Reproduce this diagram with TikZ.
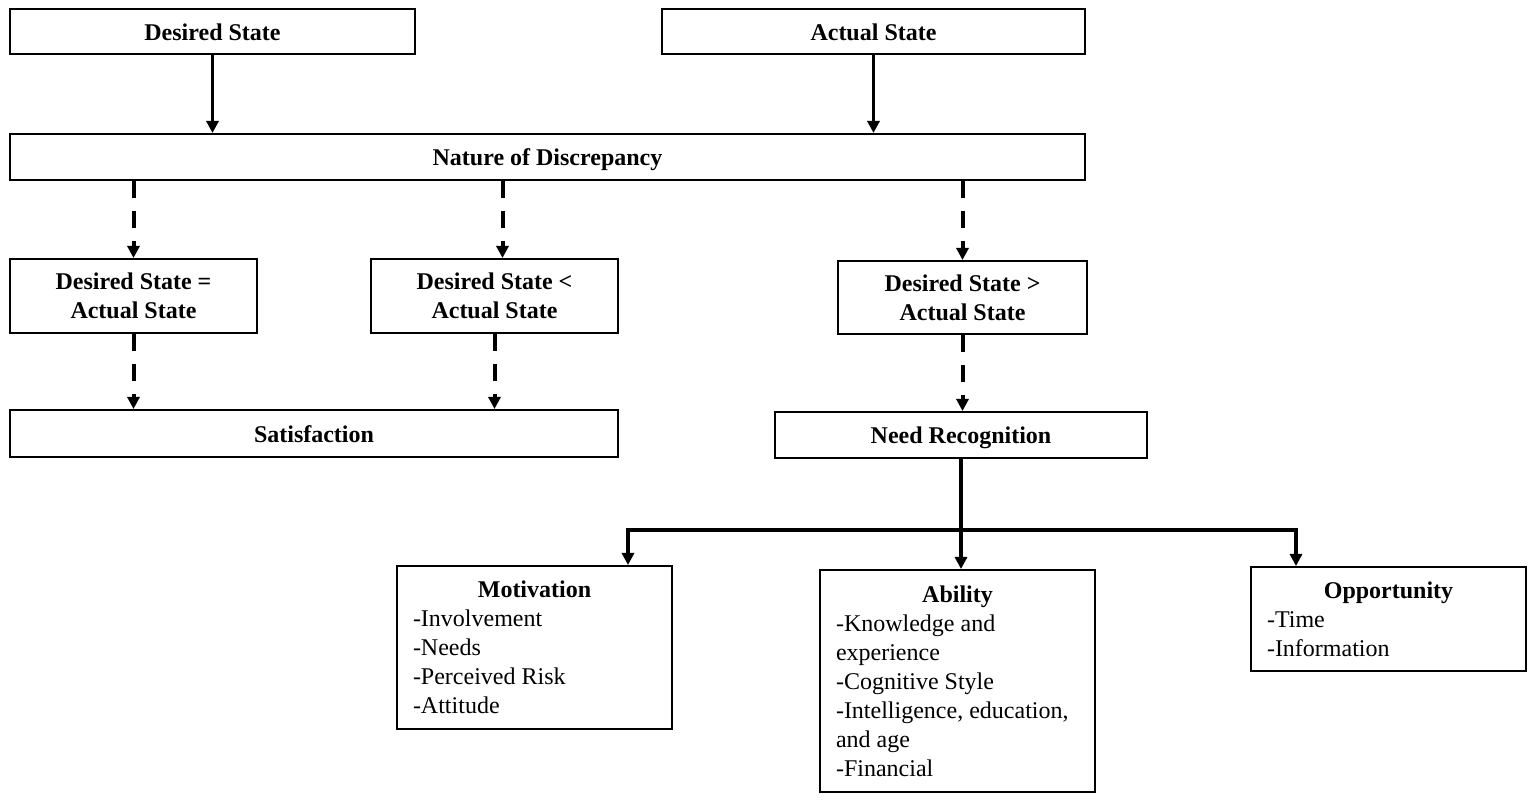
\documentclass[tikz,border=0pt]{standalone}
\usepackage{fontspec}
\setmainfont{Liberation Serif}
\usetikzlibrary{arrows.meta,positioning,calc}

\begin{document}
\begin{tikzpicture}[x=0.5pt, y=-0.5pt, every node/.style={font=\fontsize{12}{14.5}\selectfont},
  blk/.style={draw, line width=1pt, align=center, inner sep=0pt, font=\fontsize{12}{14.5}\selectfont\bfseries},
  one/.style={text height=9pt, text depth=0pt},
  lst/.style={draw, line width=1pt, align=flush left, inner xsep=8pt, inner ysep=0pt, text width=121.5pt},
  arr/.style={-{Triangle[length=6pt,width=6pt]}, line width=1.75pt},
  darr/.style={arr, line width=2pt, dash pattern=on 8.5pt off 6.5pt},
  brn/.style={{Triangle[length=6pt,width=6pt]}-{Triangle[length=6pt,width=6pt]}, line width=2.25pt}]
\useasboundingbox (0,0) rectangle (1531,801);
\node[blk, one, minimum width=202.5pt, minimum height=22.5pt] (des) at (212.5,31.5) {Desired State};
\node[blk, one, minimum width=211.5pt, minimum height=22.5pt] (act) at (873.5,31.5) {Actual State};
\node[blk, one, minimum width=537.5pt, minimum height=23pt] (nat) at (547.5,157) {Nature of Discrepancy};
\node[blk, minimum width=123.5pt, minimum height=37pt] (eq) at (133.5,296) {Desired State =\\Actual State};
\node[blk, minimum width=123.5pt, minimum height=37pt] (lt) at (494.5,296) {Desired State <\\Actual State};
\node[blk, minimum width=124.5pt, minimum height=36.5pt] (gt) at (962.5,297.5) {Desired State >\\Actual State};
\node[blk, one, minimum width=304pt, minimum height=23.5pt] (sat) at (314,433.5) {Satisfaction};
\node[blk, one, minimum width=186pt, minimum height=23pt] (need) at (961,435) {Need Recognition};
\node[lst, minimum height=81.5pt] (mot) at (534.5,647.5) {\makebox[\linewidth]{\textbf{Motivation}}\\-Involvement\\-Needs\\-Perceived Risk\\-Attitude};
\node[lst, minimum height=111pt] (abl) at (957.5,681) {\makebox[\linewidth]{\textbf{Ability}}\\-Knowledge and\\experience\\-Cognitive Style\\-Intelligence, education,\\and age\\-Financial};
\node[lst, minimum height=52pt] (opp) at (1388.5,619) {\makebox[\linewidth]{\textbf{Opportunity}}\\-Time\\-Information};
\coordinate (fork) at (961,530);
% states into the discrepancy
\draw[arr] (des.south) -- (des.south |- nat.north);
\draw[arr] (act.south) -- (act.south |- nat.north);
% three outcomes
\draw[darr] (eq.north |- nat.south) -- (eq.north);
\draw[darr] ([xshift=4pt]lt.north |- nat.south) -- ([xshift=4pt]lt.north);
\draw[darr] (gt.north |- nat.south) -- (gt.north);
\draw[darr] (eq.south) -- (eq.south |- sat.north);
\draw[darr] (lt.south) -- (lt.south |- sat.north);
\draw[darr] (gt.south) -- (gt.south |- need.north);
% need recognition to its factors
\draw[arr, line width=2.25pt] (need.south) -- (need.south |- abl.north);
\draw[brn] ([xshift=46.75pt]mot.north) |- (fork) -| ([xshift=-46.25pt]opp.north);
\end{tikzpicture}
\end{document}
